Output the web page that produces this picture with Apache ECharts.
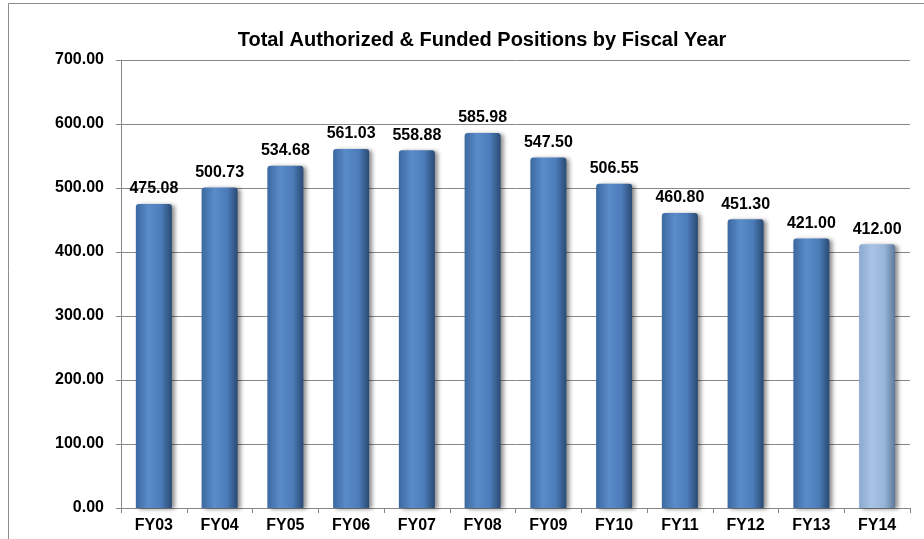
<!DOCTYPE html>
<html><head><meta charset="utf-8">
<script src="https://cdn.jsdelivr.net/npm/echarts@6/dist/echarts.min.js"></script>
<style>html,body{margin:0;padding:0;background:#fff}#c{width:924px;height:539px}</style>
</head><body><div id="c"></div>
<script>
var categories = ['FY03','FY04','FY05','FY06','FY07','FY08','FY09','FY10','FY11','FY12','FY13','FY14'];
var values = [475.08,500.73,534.68,561.03,558.88,585.98,547.50,506.55,460.80,451.30,421.00,412.00];
var highlightIndex = 11;

function grad(stops){return new echarts.graphic.LinearGradient(0,0,1,0,stops);}
var darkGrad = grad([{offset:0,color:'#3b68a0'},{offset:0.35,color:'#5a8cca'},{offset:0.7,color:'#4c7dba'},{offset:1,color:'#2a4a73'}]);
var lightGrad = grad([{offset:0,color:'#8aa9d0'},{offset:0.35,color:'#a9c3e4'},{offset:0.7,color:'#97b5da'},{offset:1,color:'#5f7898'}]);

var data = values.map(function(v,i){
  return {value:v, itemStyle:{color: i===highlightIndex ? lightGrad : darkGrad}};
});

var font = 'Liberation Sans, Arial';
var chart = echarts.init(document.getElementById('c'));
chart.setOption({
  animation:false,
  title:{text:'Total Authorized & Funded Positions by Fiscal Year',left:477,top:25,textAlign:'center',
    textStyle:{fontFamily:font,fontWeight:'bold',fontSize:20,color:'#000'}},
  graphic:[{type:'rect',shape:{x:8.5,y:3.5,width:1000,height:1000},style:{fill:'none',stroke:'#8c8c8c',lineWidth:1},silent:true}],
  grid:{left:121,right:14,top:60,bottom:31},
  xAxis:{type:'category',data:categories,
    axisLine:{lineStyle:{color:'#888'}},
    axisTick:{show:true,alignWithLabel:false,length:5,lineStyle:{color:'#888'}},
    axisLabel:{fontFamily:font,fontWeight:'bold',fontSize:16,color:'#000',margin:10}},
  yAxis:{type:'value',min:0,max:700,interval:100,
    axisLine:{show:true,lineStyle:{color:'#888'}},
    axisTick:{show:true,length:5,lineStyle:{color:'#888'}},
    splitLine:{lineStyle:{color:'#888'}},
    axisLabel:{fontFamily:font,fontWeight:'bold',fontSize:16,color:'#000',margin:17,
      formatter:function(v){return v.toFixed(2);}}},
  series:[{type:'bar',data:data,barWidth:36,
    itemStyle:{borderRadius:[3,3,0,0],shadowColor:'rgba(0,0,0,0.45)',shadowBlur:4,shadowOffsetX:3,shadowOffsetY:1},
    label:{show:true,position:'top',distance:7,fontFamily:font,fontWeight:'bold',fontSize:16,color:'#000',
      formatter:function(p){return p.value.toFixed(2);}}}]
});
</script></body></html>
